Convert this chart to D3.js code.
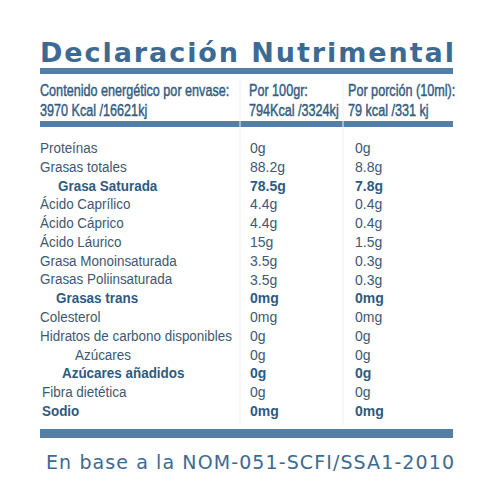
<!DOCTYPE html>
<html><head><meta charset="utf-8">
<script src="https://cdn.jsdelivr.net/npm/d3@7"></script>
<style>body{margin:0;background:#fff}</style></head>
<body><div id="chart"></div>
<script>
const labels = ["Proteínas","Grasas totales","Grasa Saturada","Ácido Caprílico","Ácido Cáprico","Ácido Láurico","Grasa Monoinsaturada","Grasas Poliinsaturada","Grasas trans","Colesterol","Hidratos de carbono disponibles","Azúcares","Azúcares añadidos","Fibra dietética","Sodio"];
const per100 = ["0g","88.2g","78.5g","4.4g","4.4g","15g","3.5g","3.5g","0mg","0mg","0g","0g","0g","0g","0mg"];
const perPortion = ["0g","8.8g","7.8g","0.4g","0.4g","1.5g","0.3g","0.3g","0mg","0mg","0g","0g","0g","0g","0mg"];
const boldRows = ["Grasa Saturada","Grasas trans","Azúcares añadidos","Sodio"];
const indent = {"Grasa Saturada":18,"Grasas trans":16,"Azúcares":35,"Azúcares añadidos":22,"Fibra dietética":2,"Sodio":2};

const svg = d3.select("#chart").append("svg").attr("width",500).attr("height",500);
const blue = "#41709a", text = "#3e5870", boldc = "#2f5a80";

svg.append("text").attr("x",40).attr("y",62).attr("textLength",414)
  .attr("font-family","DejaVu Sans").attr("font-weight","bold").attr("font-size",27)
  .attr("fill","#3d6a93").text("Declaración Nutrimental");

[[68,6],[121,6],[429,9]].forEach(([y,h])=>svg.append("rect").attr("x",40).attr("y",y).attr("width",413).attr("height",h).attr("fill",blue).attr("opacity",0.9));
[240,343].forEach(x=>svg.append("line").attr("x1",x).attr("x2",x).attr("y1",80).attr("y2",425).attr("stroke","#eef1f4"));

const hdr = [["Contenido energético por envase:","3970 Kcal /16621kj",40],["Por 100gr:","794Kcal /3324kj",249],["Por porción (10ml):","79 kcal /331 kj",348]];
const sx = 0.765;
hdr.forEach(([a,b,x])=>{
  [[a,96],[b,116]].forEach(([t,yy])=>
    svg.append("text").attr("x",x).attr("y",yy).attr("font-family","Liberation Sans").attr("font-size",16.5).attr("fill","#345d82")
      .attr("stroke","#345d82").attr("stroke-width",0.45)
      .attr("transform",`translate(${x},0) scale(${sx},1) translate(${-x},0)`).text(t));
});

const y = d3.scalePoint().domain(labels).range([153,416]);
const g = svg.append("g").attr("font-family","Liberation Sans").attr("font-size",14);
labels.forEach((l,i)=>{
  const b = boldRows.includes(l);
  const fill = b ? boldc : text, fw = b ? "bold" : "normal";
  const x0 = 40+(indent[l]||0);
  g.append("text").attr("x",x0).attr("y",y(l)).attr("fill",fill).attr("font-weight",fw)
    .attr("transform",`translate(${x0},0) scale(0.96,1) translate(${-x0},0)`).text(l);
  g.append("text").attr("x",250).attr("y",y(l)).attr("fill",fill).attr("font-weight",fw).text(per100[i]);
  g.append("text").attr("x",355).attr("y",y(l)).attr("fill",fill).attr("font-weight",fw).text(perPortion[i]);
});

svg.append("text").attr("x",46).attr("y",469).attr("textLength",408)
  .attr("font-family","DejaVu Sans").attr("font-size",19).attr("fill","#3d6a93")
  .text("En base a la NOM-051-SCFI/SSA1-2010");
</script></body></html>
